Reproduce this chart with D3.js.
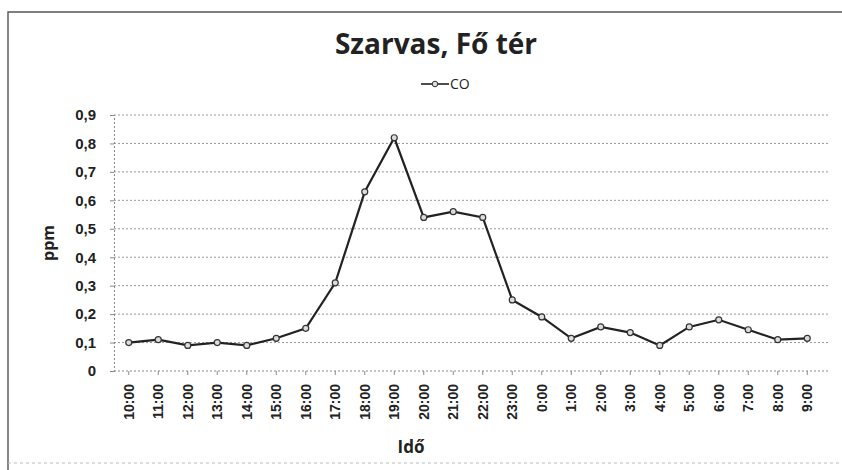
<!DOCTYPE html>
<meta charset="utf-8">
<style>
    body { margin: 0; background: #fff; }
    svg { font-family: "Open Sans", "Liberation Sans", sans-serif; }
    .grid line { stroke: #999; stroke-dasharray: 2,2; stroke-width: 1; }
    .axis path, .axis line { stroke: #888; fill: none; }
    .axis text { fill: #222; font-size: 14px; font-weight: 600; }
</style>
<body>
<script src="https://d3js.org/d3.v7.min.js"></script>
<script>
    const hours = ['10:00','11:00','12:00','13:00','14:00','15:00','16:00','17:00','18:00','19:00','20:00','21:00',
        '22:00','23:00','0:00','1:00','2:00','3:00','4:00','5:00','6:00','7:00','8:00','9:00'];
    const co = [0.10, 0.11, 0.09, 0.10, 0.09, 0.115, 0.15, 0.31, 0.63, 0.82, 0.54, 0.56,
        0.54, 0.25, 0.19, 0.115, 0.155, 0.135, 0.09, 0.155, 0.18, 0.145, 0.11, 0.115];
    const yTicks = [0, 0.1, 0.2, 0.3, 0.4, 0.5, 0.6, 0.7, 0.8, 0.9];

    const width = 842, height = 470;
    const margin = {top: 115, right: 20, bottom: 98, left: 114};

    const svg = d3.select('body').append('svg')
        .attr('width', width)
        .attr('height', height);

    // scanned frame: strong left/top edge, faint bottom
    svg.append('path')
        .attr('d', 'M8,470V12H842')
        .attr('fill', 'none')
        .attr('stroke', '#555')
        .attr('stroke-width', 1.4);
    svg.append('line')
        .attr('x1', 8).attr('x2', 842).attr('y1', 463).attr('y2', 463)
        .attr('stroke', '#bbb')
        .attr('stroke-dasharray', '3,3');

    const x = d3.scaleBand()
        .domain(hours)
        .range([margin.left, 822]);

    const y = d3.scaleLinear()
        .domain([0, 0.9])
        .range([height - margin.bottom - 1, margin.top]);

    // gridlines
    svg.append('g')
        .attr('class', 'grid')
        .selectAll('line')
        .data(yTicks.slice(1))
        .enter().append('line')
        .attr('x1', margin.left)
        .attr('x2', width - 12)
        .attr('y1', d => y(d))
        .attr('y2', d => y(d));

    // y axis
    svg.append('g')
        .attr('class', 'axis y')
        .attr('transform', 'translate(' + margin.left + ',0)')
        .call(d3.axisLeft(y).tickValues(yTicks).tickSize(4).tickPadding(14)
            .tickFormat(d => d === 0 ? '0' : d3.format('.1f')(d).replace('.', ',')))
        .call(g => g.select('.domain').attr('stroke-dasharray', '2,2'))
        .call(g => g.selectAll('text').style('font-size', '15px'));

    // x axis
    const xAxis = svg.append('g')
        .attr('class', 'axis x')
        .attr('transform', 'translate(0,' + y(0) + ')')
        .call(d3.axisBottom(x).tickSize(4).tickSizeOuter(0));
    xAxis.select('.domain').attr('stroke-dasharray', '2,2')
        .attr('d', 'M' + margin.left + ',0H' + (width - 12));
    xAxis.selectAll('text')
        .attr('transform', 'rotate(-90)')
        .attr('text-anchor', 'end')
        .attr('x', -13)
        .attr('y', 0)
        .attr('dy', '0.35em');

    // line
    const line = d3.line()
        .x((d, i) => x(hours[i]) + x.bandwidth() / 2)
        .y(d => y(d));

    svg.append('path')
        .datum(co)
        .attr('fill', 'none')
        .attr('stroke', '#222')
        .attr('stroke-width', 2.2)
        .attr('d', line);

    svg.selectAll('.dot')
        .data(co)
        .enter().append('circle')
        .attr('class', 'dot')
        .attr('cx', (d, i) => x(hours[i]) + x.bandwidth() / 2)
        .attr('cy', d => y(d))
        .attr('r', 3)
        .attr('fill', '#ddd')
        .attr('stroke', '#333')
        .attr('stroke-width', 1.2);

    // title
    svg.append('text')
        .attr('x', 436).attr('y', 54)
        .attr('text-anchor', 'middle')
        .style('font-size', '28px')
        .style('font-weight', 'bold')
        .style('fill', '#222')
        .text('Szarvas, Fő tér');

    // legend
    const lg = svg.append('g').attr('transform', 'translate(421,84)');
    lg.append('line').attr('x1', 0).attr('x2', 28).attr('y1', 0).attr('y2', 0)
        .attr('stroke', '#222').attr('stroke-width', 1.6);
    lg.append('circle').attr('cx', 14).attr('cy', 0).attr('r', 2.8)
        .attr('fill', '#ddd').attr('stroke', '#333').attr('stroke-width', 1);
    lg.append('text').attr('x', 29).attr('y', 0).attr('dy', '0.35em')
        .style('font-size', '14px').style('fill', '#222').text('CO');

    // axis titles
    svg.append('text')
        .attr('transform', 'translate(48,' + ((y(0) + y(0.9)) / 2) + ') rotate(-90)')
        .attr('text-anchor', 'middle')
        .attr('dy', '0.35em')
        .style('font-size', '16px')
        .style('font-weight', 'bold')
        .style('fill', '#222')
        .text('ppm');

    svg.append('text')
        .attr('x', 411).attr('y', 453)
        .attr('text-anchor', 'middle')
        .style('font-size', '17px')
        .style('font-weight', 'bold')
        .style('fill', '#222')
        .text('Idő');
</script>
</body>
